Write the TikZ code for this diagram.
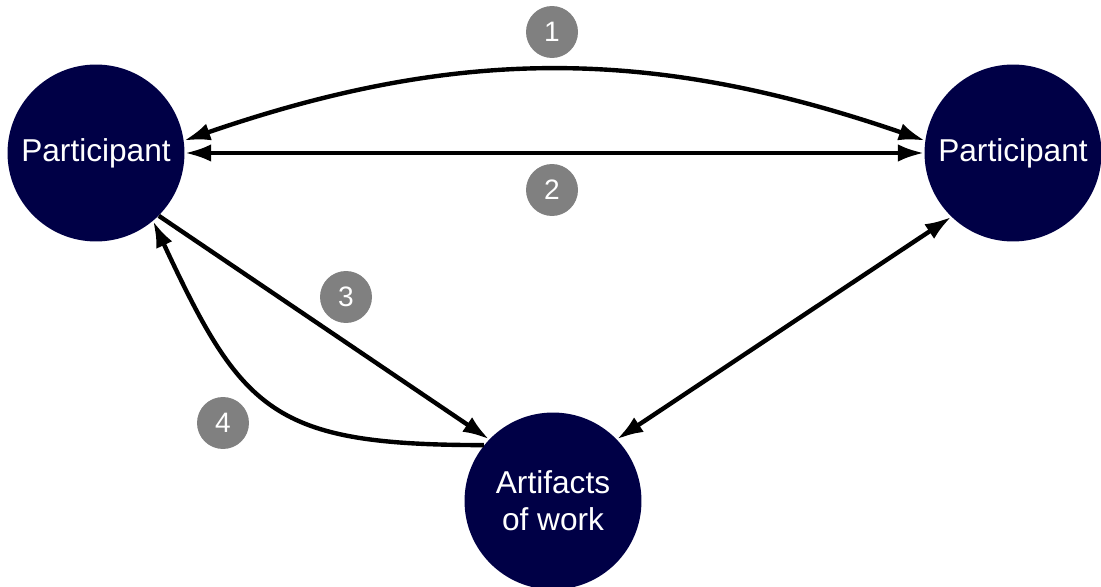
\documentclass[tikz,border=0pt]{standalone}
\usepackage{fontspec}
\setmainfont{Liberation Sans}
\usetikzlibrary{arrows.meta,positioning}
\definecolor{actornavy}{RGB}{0,0,70}
\definecolor{badgegray}{RGB}{128,128,128}

\begin{document}
\begin{tikzpicture}[x=0.02cm,y=-0.02cm,
    actor/.style={circle,fill=actornavy,text=white,inner sep=0pt,minimum size=3.54cm,align=center,font=\fontsize{18}{21}\selectfont},
    badge/.style={circle,fill=badgegray,text=white,inner sep=0pt,minimum size=1.04cm,font=\fontsize{16}{18}\selectfont},
    link/.style={line width=2.5pt,arrows={-Latex[length=15pt,width=10pt]}},
    twoway/.style={arrows={Latex[length=15pt,width=10pt]-Latex[length=15pt,width=10pt]}}]
      \useasboundingbox (0,0) rectangle (1101,587);

      \node[actor](PartLeft)  at (96,153)  {Participant};
      \node[actor](PartRight) at (1013,153) {Participant};
      \node[actor](Artifacts) at (553,501) {Artifacts\\of work};

      \node[badge](One)   at (552,32)  {1};
      \node[badge](Two)   at (552,190) {2};
      \node[badge](Three) at (346,297) {3};
      \node[badge](Four)  at (223,423) {4};

      \path[link] (PartLeft.8)     edge[bend left=19, twoway]              (PartRight.172)
                  (PartLeft)       edge[twoway]                            (PartRight)
                  (PartLeft.-45)   edge                                    (Artifacts.136)
                  (Artifacts.141)  edge[out=180, in=-65, looseness=1.35]   (PartLeft.-50)
                  (Artifacts.44)   edge[twoway]                            (PartRight.-134);

\end{tikzpicture}
\end{document}
